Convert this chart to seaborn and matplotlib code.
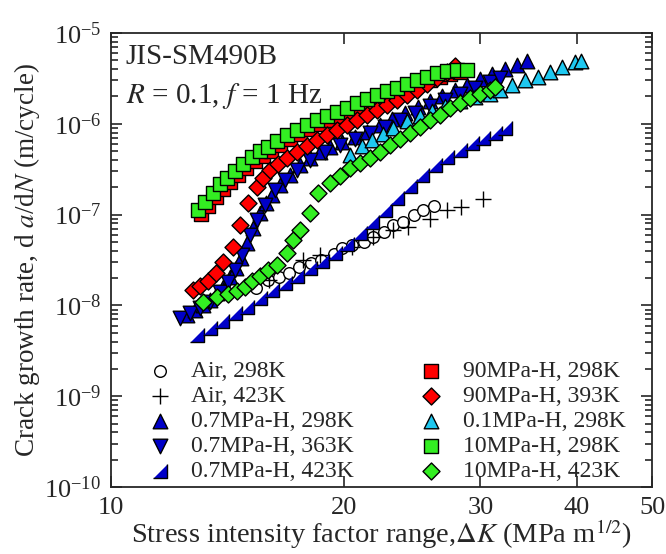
import matplotlib
matplotlib.use("Agg")
import matplotlib.pyplot as plt
import matplotlib.ticker as mticker
import seaborn as sns

# STYLE SETTINGS
sns.set_style("ticks")
plt.rcParams["font.family"] = ["Liberation Serif", "DejaVu Serif"]
plt.rcParams["mathtext.fontset"] = "stix"

# DATA
air_298_dk = [15.4, 15.95, 16.5, 17.0, 17.5, 18.1, 18.7, 19.4, 19.9, 20.5, 21.2,
              21.8, 22.5, 23.1, 23.8, 24.6, 25.3, 26.1]
air_298_rate = [1.56e-8, 1.90e-8, 2.05e-8, 2.27e-8, 2.65e-8, 2.93e-8, 3.16e-8, 3.68e-8,
                4.29e-8, 4.63e-8, 4.99e-8, 5.67e-8, 6.43e-8, 7.68e-8, 8.29e-8, 9.9e-8,
                1.12e-7, 1.24e-7]

air_423_dk = [16.0, 17.7, 18.6, 20.5, 21.8, 23.1, 24.2, 25.8, 27.2, 28.3, 30.2]
air_423_rate = [1.90e-8, 3.16e-8, 3.59e-8, 4.40e-8, 5.67e-8, 6.77e-8, 7.30e-8, 8.95e-8,
                1.12e-7, 1.21e-7, 1.49e-7]

h07_298_dk = [12.54, 12.84, 13.15, 13.42, 13.71, 13.95, 14.25, 14.50, 14.72, 14.99,
              15.26, 15.58, 15.86, 16.14, 16.53, 17.03, 17.55, 18.08, 18.62, 19.18,
              19.88, 20.67, 21.42, 22.26, 23.07, 23.98, 24.93, 25.83, 26.77, 27.83,
              28.84, 29.97, 31.06, 32.29, 33.46, 34.47]
h07_298_rate = [7.84e-9, 8.9e-9, 1.01e-8, 1.15e-8, 1.37e-8, 1.60e-8, 2.06e-8, 2.58e-8,
                3.33e-8, 4.87e-8, 7.12e-8, 1.04e-7, 1.34e-7, 1.64e-7, 2.12e-7, 2.73e-7,
                3.52e-7, 4.20e-7, 4.89e-7, 5.55e-7, 6.31e-7, 7.16e-7, 8.12e-7, 9.70e-7,
                1.13e-6, 1.32e-6, 1.53e-6, 1.78e-6, 2.02e-6, 2.36e-6, 2.67e-6, 3.11e-6,
                3.53e-6, 4.02e-6, 4.45e-6, 4.92e-6]

h07_363_dk = [12.28, 12.65, 13.03, 13.42, 13.83, 14.16, 14.46, 14.77, 15.12, 15.44,
              15.81, 16.29, 16.78, 17.39, 18.08, 18.90, 19.76, 20.67, 21.61, 22.59,
              23.63, 24.70, 25.83, 27.01, 28.24, 29.53, 30.88, 31.81]
h07_363_rate = [7.26e-9, 8.24e-9, 9.36e-9, 1.09e-8, 1.41e-8, 1.81e-8, 2.45e-8, 3.59e-8,
                5.96e-8, 8.73e-8, 1.28e-7, 1.87e-7, 2.40e-7, 3.10e-7, 3.99e-7, 4.89e-7,
                5.85e-7, 6.81e-7, 7.92e-7, 9.23e-7, 1.10e-6, 1.32e-6, 1.57e-6, 1.83e-6,
                2.13e-6, 2.48e-6, 2.89e-6, 3.19e-6]

h07_423_dk = [12.92, 13.42, 13.91, 14.46, 14.99, 15.58, 16.14, 16.78, 17.39, 18.08,
              18.73, 19.47, 20.18, 20.98, 21.74, 22.59, 23.41, 24.34, 25.22, 26.22,
              27.18, 28.24, 29.27, 30.25, 31.34, 32.3]
h07_423_rate = [4.72e-9, 5.64e-9, 6.73e-9, 8.24e-9, 9.6e-9, 1.21e-8, 1.48e-8, 1.77e-8,
                2.11e-8, 2.58e-8, 3.08e-8, 3.78e-8, 4.74e-8, 6.27e-8, 8.29e-8, 1.12e-7,
                1.52e-7, 2.07e-7, 2.73e-7, 3.52e-7, 4.31e-7, 5.14e-7, 6.15e-7, 6.98e-7,
                7.92e-7, 9.0e-7]

h90_298_dk = [13.07, 13.35, 13.67, 13.95, 14.25, 14.59, 14.94, 15.35, 15.72, 16.10,
              16.53, 17.03, 17.55, 18.08, 18.62, 19.18, 19.76, 20.36, 20.98, 21.61,
              22.26, 22.93, 23.63, 24.34, 25.07, 25.83, 26.61, 27.41, 28.24]
h90_298_rate = [1.02e-7, 1.24e-7, 1.56e-7, 1.91e-7, 2.29e-7, 2.73e-7, 3.26e-7, 3.89e-7,
                4.42e-7, 5.01e-7, 5.85e-7, 6.81e-7, 7.72e-7, 8.77e-7, 9.95e-7, 1.10e-6,
                1.22e-6, 1.35e-6, 1.53e-6, 1.69e-6, 1.88e-6, 2.08e-6, 2.24e-6, 2.48e-6,
                2.74e-6, 3.04e-6, 3.28e-6, 3.53e-6, 3.72e-6]

h90_393_dk = [12.76, 13.03, 13.35, 13.67, 13.95, 14.38, 14.68, 15.03, 15.44, 15.72,
              16.05, 16.43, 16.88, 17.39, 17.91, 18.46, 19.01, 19.59, 20.18, 20.79,
              21.42, 22.06, 22.73, 23.41, 24.12, 24.85, 25.60, 26.38, 27.18, 27.83]
h90_393_rate = [1.48e-8, 1.64e-8, 1.86e-8, 2.27e-8, 3.01e-8, 4.40e-8, 7.68e-8, 1.34e-7,
                2.01e-7, 2.53e-7, 3.10e-7, 3.61e-7, 4.20e-7, 4.89e-7, 5.70e-7, 6.63e-7,
                7.53e-7, 8.55e-7, 9.70e-7, 1.10e-6, 1.25e-6, 1.42e-6, 1.61e-6, 1.83e-6,
                2.08e-6, 2.36e-6, 2.74e-6, 3.19e-6, 3.72e-6, 4.33e-6]

h01_298_dk = [20.36, 21.10, 21.74, 22.46, 23.14, 24.12, 25.07, 25.99, 27.01, 28.24,
              29.53, 30.88, 31.81, 32.97, 34.27, 35.62, 36.92, 38.26, 39.76, 40.48]
h01_298_rate = [4.53e-7, 5.70e-7, 6.63e-7, 7.72e-7, 9.0e-7, 1.07e-6, 1.22e-6, 1.38e-6,
                1.57e-6, 1.78e-6, 1.97e-6, 2.13e-6, 2.36e-6, 2.67e-6, 3.04e-6, 3.28e-6,
                3.72e-6, 4.22e-6, 4.80e-6, 4.92e-6]

h10_298_dk = [12.95, 13.23, 13.55, 13.83, 14.12, 14.46, 14.81, 15.21, 15.58, 15.95,
              16.39, 16.88, 17.39, 17.91, 18.46, 19.01, 19.59, 20.18, 20.79, 21.42,
              22.06, 22.73, 23.41, 24.12, 24.85, 25.60, 26.38, 27.18, 27.99, 28.84]
h10_298_rate = [1.12e-7, 1.38e-7, 1.73e-7, 2.17e-7, 2.53e-7, 3.02e-7, 3.61e-7, 4.31e-7,
                5.01e-7, 5.55e-7, 6.47e-7, 7.53e-7, 8.55e-7, 9.70e-7, 1.10e-6, 1.22e-6,
                1.35e-6, 1.49e-6, 1.69e-6, 1.88e-6, 2.08e-6, 2.30e-6, 2.48e-6, 2.74e-6,
                3.04e-6, 3.28e-6, 3.63e-6, 3.81e-6, 3.91e-6, 3.91e-6]

h10_423_dk = [13.15, 13.71, 14.16, 14.55, 14.90, 15.21, 15.58, 15.95, 16.39, 16.88,
              17.19, 17.55, 18.08, 18.51, 19.18, 19.76, 20.36, 20.98, 21.61, 22.26,
              22.93, 23.63, 24.34, 25.07, 25.83, 26.61, 27.41, 28.24, 29.10, 29.97,
              30.88, 31.3]
h10_423_rate = [1.09e-8, 1.24e-8, 1.34e-8, 1.44e-8, 1.60e-8, 1.86e-8, 2.11e-8, 2.45e-8,
                2.79e-8, 3.78e-8, 5.25e-8, 6.77e-8, 1.04e-7, 1.73e-7, 2.23e-7, 2.66e-7,
                3.26e-7, 3.70e-7, 4.20e-7, 4.89e-7, 5.85e-7, 6.81e-7, 7.92e-7, 9.23e-7,
                1.10e-6, 1.25e-6, 1.49e-6, 1.69e-6, 1.92e-6, 2.13e-6, 2.36e-6, 2.54e-6]

x_ticks = [10, 20, 30, 40, 50]
y_ticks = [1e-10, 1e-9, 1e-8, 1e-7, 1e-6, 1e-5]

# right-angled triangle marker used for the 423K series
half_tri = [(-1, -1), (1, -1), (1, 1)]

# (label, x, y, marker, face, size, zorder)
series = [
    ("Air, 298K", air_298_dk, air_298_rate, "o", "white", 70, 3),
    ("Air, 423K", air_423_dk, air_423_rate, "+", "black", 130, 3),
    ("0.7MPa-H, 298K", h07_298_dk, h07_298_rate, "^", "#0000c8", 110, 4),
    ("0.7MPa-H, 363K", h07_363_dk, h07_363_rate, "v", "#0000c8", 110, 4),
    ("0.7MPa-H, 423K", h07_423_dk, h07_423_rate, half_tri, "#0000c8", 95, 4),
    ("90MPa-H, 298K", h90_298_dk, h90_298_rate, "s", "#ff0000", 100, 5),
    ("90MPa-H, 393K", h90_393_dk, h90_393_rate, "D", "#ff0000", 75, 5),
    ("0.1MPa-H, 298K", h01_298_dk, h01_298_rate, "^", "#1ec8f0", 110, 4),
    ("10MPa-H, 298K", h10_298_dk, h10_298_rate, "s", "#33ee22", 100, 6),
    ("10MPa-H, 423K", h10_423_dk, h10_423_rate, "D", "#33ee22", 75, 6),
]

fig = plt.figure(figsize=(6.66, 5.54), dpi=100)
ax = fig.add_axes([0.1667, 0.1209, 0.8125, 0.8195])

for label, xs, ys, mk, face, size, z in series:
    if mk == "+":
        sns.scatterplot(x=xs, y=ys, marker="+", color="black", s=size,
                        linewidth=1.0, label=label, ax=ax, zorder=z)
    else:
        sns.scatterplot(x=xs, y=ys, marker=mk, color=face, s=size,
                        edgecolor="black", linewidth=1.0, label=label,
                        ax=ax, zorder=z)

ax.set_xscale("log")
ax.set_yscale("log")
ax.set_xlim(10, 50)
ax.set_ylim(1e-10, 1e-5)

# TICKS
ax.xaxis.set_major_locator(mticker.FixedLocator(x_ticks))
ax.xaxis.set_major_formatter(mticker.FixedFormatter([str(t) for t in x_ticks]))
ax.xaxis.set_minor_locator(mticker.NullLocator())
ax.yaxis.set_major_locator(mticker.FixedLocator(y_ticks))
ax.yaxis.set_major_formatter(mticker.LogFormatterSciNotation())
ax.yaxis.set_minor_locator(mticker.LogLocator(base=10, subs=range(2, 10), numticks=20))
ax.yaxis.set_minor_formatter(mticker.NullFormatter())
ax.tick_params(which="both", direction="in", top=True, right=True, width=1.2)
ax.tick_params(which="major", length=8, labelsize=19, pad=7)
ax.tick_params(which="minor", length=5)
for sp in ax.spines.values():
    sp.set_linewidth(1.3)

# LABELS
ax.set_xlabel(r"Stress intensity factor range,$\Delta K$ (MPa m$^{1/2}$)",
              fontsize=20.5, labelpad=-1)
ax.set_ylabel(r"Crack growth rate, d $\it{a}$/d$\it{N}$ (m/cycle)",
              fontsize=19.5, labelpad=2)

ax.text(0.027, 0.975, "JIS-SM490B", transform=ax.transAxes,
        fontsize=21, va="top", ha="left")
ax.text(0.027, 0.895, r"$R$ = 0.1, $f$ = 1 Hz", transform=ax.transAxes,
        fontsize=21, va="top", ha="left")

# LEGEND
ax.legend(loc="lower left", bbox_to_anchor=(0.068, 0.01), ncol=2,
          frameon=False, fontsize=17, handlelength=1.0, handletextpad=0.85,
          columnspacing=2.75, labelspacing=0.15, borderpad=0.0,
          borderaxespad=0.0)

plt.savefig("out.png", dpi=100)
plt.close()
